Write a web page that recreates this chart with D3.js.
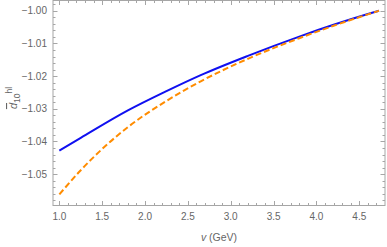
<!DOCTYPE html>
<html>
<head>
<meta charset="utf-8">
<script src="https://cdn.jsdelivr.net/npm/d3@7"></script>
<style>
  body { margin: 0; background: #fff; }
  svg text { font-family: "Liberation Sans", Arial, sans-serif; }
</style>
</head>
<body>
<div id="chart"></div>
<script>
// data
const nuValues = [1.0, 1.25, 1.8, 2.25, 2.65, 3.2, 3.8, 4.2, 4.6, 4.73]
const solidSeries = [-1.0428, -1.0389, -1.0305, -1.0246, -1.0197, -1.0138, -1.0079, -1.0043, -1.0010, -1.0000]
const dashedSeries = [-1.0562, -1.0488, -1.0356, -1.0276, -1.0216, -1.0147, -1.0084, -1.0046, -1.0011, -1.0000]
const xTicks = [1.0, 1.5, 2.0, 2.5, 3.0, 3.5, 4.0, 4.5]
const yTicks = [-1.05, -1.04, -1.03, -1.02, -1.01, -1.00]

const width = 387
const height = 247
const frameColor = "#a6a6a6"
const labelColor = "#666"

const svg = d3.select("#chart")
    .append("svg")
    .attr("width", width)
    .attr("height", height)

// scales
const x = d3.scaleLinear().domain([0.926, 4.80]).range([53, 385])
const y = d3.scaleLinear().domain([-1.0596, -0.99686]).range([205.5, 0.5])

// frame
svg.append("rect")
    .attr("x", x.range()[0])
    .attr("y", y.range()[1])
    .attr("width", x.range()[1] - x.range()[0])
    .attr("height", y.range()[0] - y.range()[1])
    .attr("fill", "none")
    .attr("stroke", frameColor)
    .attr("stroke-width", 1)

// ticks, all four sides pointing in
const tickG = svg.append("g").attr("stroke", frameColor).attr("stroke-width", 1)
const xMinor = d3.range(0, 50).map(i => 0.9 + i * 0.1).filter(v => v >= 0.926 && v <= 4.8)
xMinor.forEach(v => {
    const major = Math.abs(v * 2 - Math.round(v * 2)) < 1e-6
    const len = major ? 4.5 : 2.5
    const px = Math.round(x(v)) + 0.5
    tickG.append("line").attr("x1", px).attr("x2", px)
        .attr("y1", y.range()[0]).attr("y2", y.range()[0] - len)
    tickG.append("line").attr("x1", px).attr("x2", px)
        .attr("y1", y.range()[1]).attr("y2", y.range()[1] + len)
})
const yMinor = d3.range(0, 40).map(i => -1.06 + i * 0.002).filter(v => v >= -1.0596 && v <= -0.99686)
yMinor.forEach(v => {
    const major = Math.abs(v * 100 - Math.round(v * 100)) < 1e-6
    const len = major ? 4.5 : 2.5
    const py = Math.round(y(v)) + 0.5
    tickG.append("line").attr("y1", py).attr("y2", py)
        .attr("x1", x.range()[0]).attr("x2", x.range()[0] + len)
    tickG.append("line").attr("y1", py).attr("y2", py)
        .attr("x1", x.range()[1]).attr("x2", x.range()[1] - len)
})

// tick labels
svg.append("g").selectAll("text")
    .data(xTicks)
    .join("text")
    .attr("x", d => x(d))
    .attr("y", 220)
    .attr("text-anchor", "middle")
    .attr("font-size", 10)
    .attr("fill", labelColor)
    .text(d => d3.format(".1f")(d))

svg.append("g").selectAll("text")
    .data(yTicks)
    .join("text")
    .attr("x", 47)
    .attr("y", d => y(d) + 3.5)
    .attr("text-anchor", "end")
    .attr("font-size", 10)
    .attr("fill", labelColor)
    .text(d => d3.format(".2f")(d).replace("-", "\u2212"))

// curves
const line = d3.line()
    .x((d, i) => x(nuValues[i]))
    .y(d => y(d))
    .curve(d3.curveMonotoneX)

svg.append("path")
    .datum(solidSeries)
    .attr("d", line)
    .attr("fill", "none")
    .attr("stroke", "#1010f0")
    .attr("stroke-width", 2)

svg.append("path")
    .datum(dashedSeries)
    .attr("d", line)
    .attr("fill", "none")
    .attr("stroke", "#ff8c00")
    .attr("stroke-width", 2)
    .attr("stroke-dasharray", "6,3")

// axis labels
const xl = svg.append("text")
    .attr("x", 219)
    .attr("y", 241)
    .attr("text-anchor", "middle")
    .attr("font-size", 10.5)
    .attr("fill", labelColor)
xl.append("tspan").attr("font-style", "italic").text("v")
xl.append("tspan").text(" (GeV)")

const yl = svg.append("text")
    .attr("transform", "translate(17,98) rotate(-90)")
    .attr("text-anchor", "middle")
    .attr("font-size", 11)
    .attr("fill", labelColor)
yl.append("tspan").attr("font-style", "italic").attr("text-decoration", "overline").text("d")
yl.append("tspan").attr("font-size", 8.5).attr("dy", 3).text("10")
yl.append("tspan").attr("font-size", 8.5).attr("dy", -8).text("hl")
</script>
</body>
</html>
